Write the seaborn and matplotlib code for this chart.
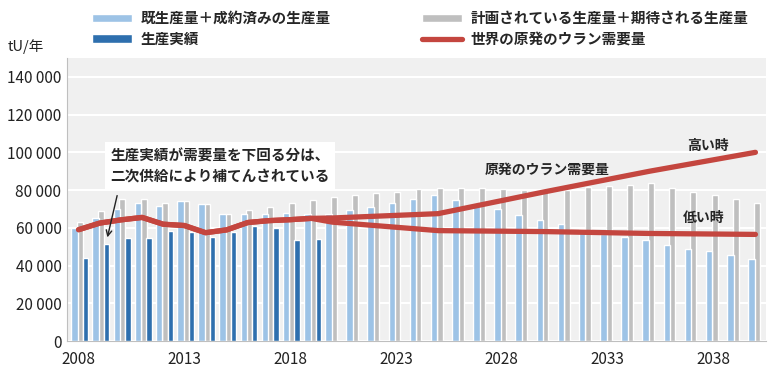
import numpy as np
import pandas as pd
import seaborn as sns
import matplotlib.pyplot as plt
from matplotlib.patches import Patch
from matplotlib.lines import Line2D

sns.set_style("white")
plt.rcParams['font.family'] = ['Noto Sans CJK JP', 'DejaVu Sans']

# data (tU per year)
years = list(range(2008, 2041))
existing = [60000, 65000, 70000, 73300, 71600, 74400, 72600, 67300, 67200, 67200, 67700,
            67500, 67300, 69500, 71200, 73300, 75400, 77400, 74800, 71400, 69700, 66800,
            64000, 62000, 59500, 56500, 55000, 53500, 51000, 49000, 47500, 45500, 43500]
planned = [63000, 69100, 75300, 75100, 73300, 74400, 72600, 67300, 69500, 71200, 73000,
           74800, 76200, 77200, 78300, 79200, 80600, 81300, 81000, 81000, 80500, 80100,
           79500, 80000, 81500, 82000, 82700, 83500, 81000, 79200, 77400, 75200, 73300]
actual_years = list(range(2008, 2020))
actual = [44000, 51300, 54400, 54800, 58500, 58000, 55300, 57600, 61200, 60100, 53600, 54300]

demand_years = list(range(2008, 2020))
demand = [59000, 62500, 64200, 65500, 61900, 61200, 57400, 58900, 62800, 63800, 64300, 65000]
proj_years = [2020, 2025, 2030, 2035, 2040]
demand_high = [65200, 67500, 79000, 90000, 100000]
demand_low = [63000, 58500, 58000, 57000, 56500]

LB = '#9dc3e6'
GRAY = '#bfbfbf'
DB = '#2e6fae'
RED = '#c4463f'

fig = plt.figure(figsize=(7.76, 3.73), dpi=100)
ax = fig.add_axes([67 / 776, 32 / 373, 699 / 776, 283 / 373])
ax.set_facecolor('#f0f0f0')

yr = np.array(years, dtype=float)
sns.barplot(x=yr + 0.07, y=planned, native_scale=True, width=0.28, color=GRAY,
            saturation=1, errorbar=None, ax=ax, zorder=2)
sns.barplot(x=yr - 0.19, y=existing, native_scale=True, width=0.31, color=LB,
            saturation=1, errorbar=None, ax=ax, zorder=3)
sns.barplot(x=np.array(actual_years, dtype=float) + 0.33, y=actual, native_scale=True,
            width=0.25, color=DB, saturation=1, errorbar=None, ax=ax, zorder=4)

sns.lineplot(x=demand_years + proj_years, y=demand + demand_low, color=RED,
             linewidth=3.8, ax=ax, zorder=5)
sns.lineplot(x=demand_years + proj_years, y=demand + demand_high, color=RED,
             linewidth=3.8, ax=ax, zorder=5)

ax.set_xlim(2007.45, 2040.45)
ax.set_ylim(0, 150000)
ax.set_yticks(range(0, 140001, 20000))
ax.set_yticklabels(['0' if v == 0 else f'{v:,}'.replace(',', ' ') for v in range(0, 140001, 20000)],
                   fontsize=11, color='#222222')
ax.set_xticks(range(2008, 2041, 5))
ax.set_xticklabels([str(y) for y in range(2008, 2041, 5)], fontsize=11, color='#222222')
ax.set_xticks(np.arange(2007.5, 2041, 1), minor=True)
ax.tick_params(axis='x', which='major', length=0, pad=7)
ax.tick_params(axis='x', which='minor', length=4, direction='in', color='#a6a6a6')
ax.tick_params(axis='y', length=0, pad=4)
ax.yaxis.grid(True, color='white', linewidth=1.5)
ax.set_axisbelow(True)
ax.set_xlabel('')
ax.set_ylabel('')
for s in ['top', 'right']:
    ax.spines[s].set_visible(False)
for s in ['left', 'bottom']:
    ax.spines[s].set_color('#bfbfbf')

ax.text(2009.49, 92800, '生産実績が需要量を下回る分は、\n二次供給により補てんされている',
        fontsize=10.5, fontweight='bold', va='center', ha='left', linespacing=1.3,
        bbox=dict(fc='white', ec='none', pad=4), zorder=6)
ax.annotate('', xy=(2009.33, 53500), xytext=(2009.85, 78500),
            arrowprops=dict(arrowstyle='->', color='#222222', lw=1), zorder=7)
ax.text(2030.15, 90700, '原発のウラン需要量', fontsize=10, fontweight='bold', ha='center', va='center')
ax.text(2037.74, 103400, '高い時', fontsize=10, fontweight='bold', ha='center', va='center')
ax.text(2037.55, 65200, '低い時', fontsize=10, fontweight='bold', ha='center', va='center')

fig.text(8 / 776, 1 - 47 / 373, 'tU/年', fontsize=10.5, va='center', ha='left', color='#222222')

handles = [Patch(fc=LB), Patch(fc=DB), Patch(fc=GRAY), Line2D([], [], color=RED, lw=3.8)]
labels = ['既生産量＋成約済みの生産量', '生産実績',
          '計画されている生産量＋期待される生産量', '世界の原発のウラン需要量']
fig.legend(handles, labels, ncol=2, loc='upper left', bbox_to_anchor=(82 / 776, 1.0),
           frameon=False, prop=dict(weight='bold', size=10.5), handlelength=2.7,
           handleheight=0.55, columnspacing=6.3, labelspacing=0.3, borderaxespad=0.3,
           handletextpad=0.6)

plt.savefig('out.png', dpi=100)
